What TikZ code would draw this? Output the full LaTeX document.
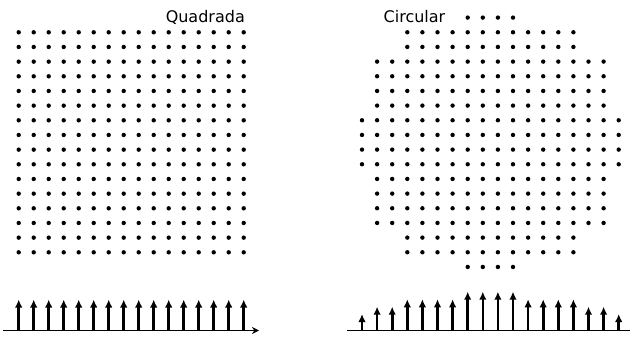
\documentclass[tikz,border=0pt]{standalone}
\usepackage{fontspec}
\setmainfont{DejaVu Sans}
\usetikzlibrary{arrows.meta}
\begin{document}
\begin{tikzpicture}[x=1pt,y=-1pt,
  dot/.style={fill=black},
  stem/.style={line width=2.6pt,-{Latex[length=8pt,width=7.5pt]}},
  axis/.style={line width=1.6pt},
  lbl/.style={font=\fontsize{16}{18}\selectfont,inner sep=0pt,anchor=base east}]
\useasboundingbox (0,0) rectangle (630,338);
% labels
\node[lbl] (quad) at (245,22.7) {Quadrada};
\node[lbl] (circ) at (445.5,22.7) {Circular};
% square grid
\foreach \i in {0,...,15}{
  \foreach \j in {0,...,15}{
    \fill[dot] ({18.7+15*\i},{32.3+14.667*\j}) circle (2.2);
  }
}
% circular grid
\foreach \r/\a/\b in {0/7/10,1/3/14,2/3/14,3/1/16,4/1/16,5/1/16,6/1/16,7/0/17,8/0/17,9/0/17,10/0/17,11/1/16,12/1/16,13/1/16,14/1/16,15/3/14,16/3/14,17/7/10}{
  \foreach \k in {\a,...,\b}{
    \fill[dot] ({362+15.1*\k},{17.6+14.667*\r}) circle (2.2);
  }
}
% left stem plot
\coordinate (la) at (3,330.5);
\coordinate (lb) at (259,330.5);
\draw[axis,-{Stealth[length=7pt,width=7pt]}] (la) -- (lb);
\foreach \i in {0,...,15}{
  \coordinate (ls\i) at ({18.7+15*\i},330.5);
  \coordinate (lt\i) at ({18.7+15*\i},299.5);
  \draw[stem] (ls\i) -- (lt\i);
}
% right stem plot
\coordinate (ra) at (347,330.5);
\coordinate (rb) at (630,330.5);
\draw[axis] (ra) -- (rb);
\foreach \k/\t in {0/314,1/306.7,2/306.7,3/299.3,4/299.3,5/299.3,6/299.3,7/291.7,8/291.7,9/291.7,10/291.7,11/299.3,12/299.3,13/299.3,14/299.3,15/306.7,16/306.7,17/314}{
  \coordinate (rs\k) at ({362+15.1*\k},330.5);
  \coordinate (rt\k) at ({362+15.1*\k},\t);
  \draw[stem] (rs\k) -- (rt\k);
}
\end{tikzpicture}
\end{document}
